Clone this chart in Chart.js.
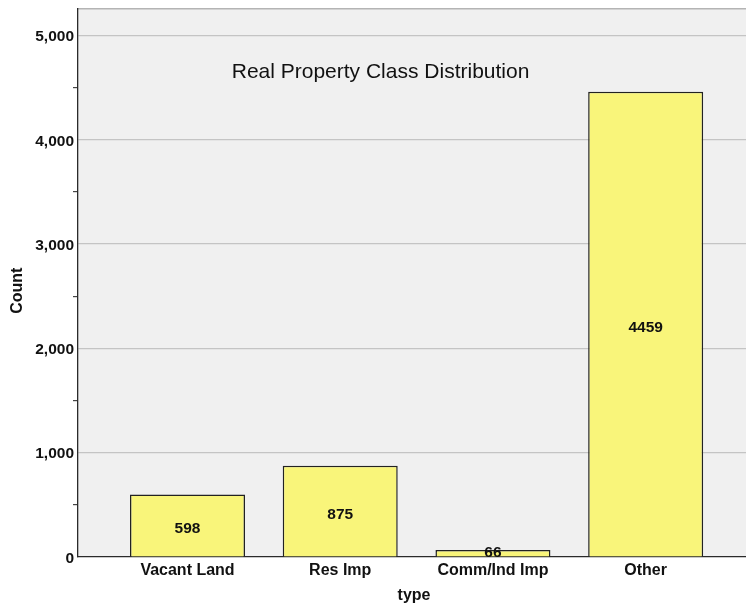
<!DOCTYPE html>
<html>
<head>
<meta charset="utf-8">
<script src="https://cdn.jsdelivr.net/npm/chart.js@4.4.0/dist/chart.umd.min.js"></script>
<style>
  html, body { margin: 0; padding: 0; background: #ffffff; }
  #wrap { width: 746px; height: 606px; }
</style>
</head>
<body>
<div id="wrap"><canvas id="c" width="746" height="606"></canvas></div>
<script>
// ---- data ----
const categories = ["Vacant Land", "Res Imp", "Comm/Ind Imp", "Other"];
const counts = [598, 875, 66, 4459];
const yTickValues = [0, 1000, 2000, 3000, 4000, 5000];
const chartTitle = "Real Property Class Distribution";
const xAxisTitle = "type";
const yAxisTitle = "Count";

const FONT = "'Liberation Sans', Arial, sans-serif";

const points = counts.map((v, i) => ({ x: i, y: v }));

const bgPlugin = {
  id: 'bg',
  beforeDraw(chart) {
    const { ctx, chartArea: a } = chart;
    ctx.save();
    ctx.fillStyle = '#f0f0f0';
    ctx.fillRect(a.left, a.top, a.right - a.left, a.bottom - a.top);
    ctx.strokeStyle = '#b4b4b4';
    ctx.lineWidth = 1.5;
    ctx.beginPath();
    ctx.moveTo(a.left, a.top + 0.5);
    ctx.lineTo(a.right, a.top + 0.5);
    ctx.stroke();
    ctx.restore();
  }
};

const textPlugin = {
  id: 'texts',
  afterDatasetsDraw(chart) {
    const { ctx, chartArea: a } = chart;
    ctx.save();
    // value labels
    const meta = chart.getDatasetMeta(0);
    ctx.fillStyle = '#111';
    ctx.font = "bold 15.5px " + FONT;
    ctx.textAlign = 'center';
    ctx.textBaseline = 'middle';
    meta.data.forEach((bar, i) => {
      const y = (bar.y + bar.base) / 2 + 3.5;
      ctx.fillText(String(counts[i]), bar.x, Math.min(y, a.bottom - 4));
    });
    // title inside plot
    ctx.font = "21px " + FONT;
    ctx.fillStyle = '#111';
    ctx.fillText(chartTitle, a.left + (a.right - a.left) * 0.4529, a.top + 64);
    ctx.restore();
  },
  afterDraw(chart) {
    const { ctx, chartArea: a } = chart;
    ctx.save();
    ctx.fillStyle = '#111';
    ctx.font = "bold 16px " + FONT;
    ctx.textAlign = 'center';
    ctx.textBaseline = 'middle';
    ctx.fillText(xAxisTitle, (a.left + a.right) / 2 + 2, 596);
    ctx.translate(18, (a.top + a.bottom) / 2 + 8);
    ctx.rotate(-Math.PI / 2);
    ctx.fillText(yAxisTitle, 0, 0);
    ctx.restore();
  }
};

new Chart(document.getElementById('c'), {
  type: 'bar',
  data: {
    datasets: [{
      data: points,
      backgroundColor: '#f9f57a',
      borderColor: '#222222',
      borderWidth: 1.5,
      categoryPercentage: 1,
      barPercentage: 0.753
    }]
  },
  plugins: [bgPlugin, textPlugin],
  options: {
    responsive: false,
    animation: false,
    layout: { padding: { top: 8, right: 0, left: 0, bottom: 0 } },
    plugins: {
      legend: { display: false },
      tooltip: { enabled: false },
      title: { display: false }
    },
    scales: {
      x: {
        type: 'linear',
        offset: false,
        min: -0.717,
        max: 3.657,
        afterBuildTicks(scale) {
          scale.ticks = categories.map((c, i) => ({ value: i }));
        },
        afterFit(scale) { scale.height = 49; },
        grid: { display: false, drawTicks: false, offset: false },
        border: { display: true, color: '#2a2a2a', width: 1.3 },
        ticks: {
          padding: 4,
          color: '#111',
          font: { family: FONT, size: 16, weight: 'bold' },
          maxRotation: 0,
          autoSkip: false,
          callback(v) { return categories[v] ?? ''; }
        }
      },
      y: {
        min: 0,
        max: 5260,
        afterBuildTicks(scale) {
          const t = [];
          for (let v = 0; v <= 5000; v += 500) t.push({ value: v });
          scale.ticks = t;
        },
        afterFit(scale) { scale.width = 78; },
        grid: {
          drawTicks: true,
          tickLength: 5,
          lineWidth: 1.2,
          color(ctx) {
            const v = ctx.tick ? ctx.tick.value : 0;
            return (v % 1000 === 0 && v !== 0) ? '#c4c4c4' : 'rgba(0,0,0,0)';
          },
          tickColor(ctx) {
            const v = ctx.tick ? ctx.tick.value : 0;
            return (v % 1000 === 0) ? 'rgba(0,0,0,0)' : '#444';
          }
        },
        border: { display: true, color: '#2a2a2a', width: 1.3 },
        ticks: {
          padding: -1,
          labelOffset: 1.5,
          color: '#111',
          font: { family: FONT, size: 15.5, weight: 'bold' },
          autoSkip: false,
          callback(v) {
            return yTickValues.includes(v) ? v.toLocaleString('en-US') : '';
          }
        }
      }
    }
  }
});
</script>
</body>
</html>
